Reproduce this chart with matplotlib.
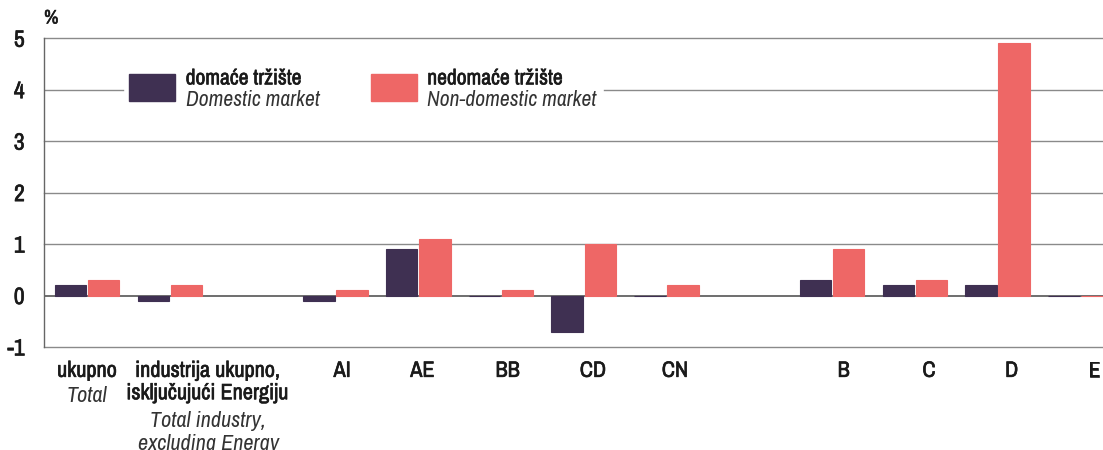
import matplotlib.pyplot as plt
import matplotlib.patheffects as pe
from matplotlib.patches import Rectangle

plt.rcParams['font.family'] = ['Archivo Narrow', 'DejaVu Sans']

# podaci
labels_top = ["ukupno", "industrija ukupno,\nisključujući Energiju", "", "AI", "AE", "BB", "CD", "CN", "",
              "B", "C", "D", "E"]
labels_bottom = ["Total", "Total industry,\nexcluding Energy", "", "", "", "", "", "", "", "", "", "", ""]
domestic = [0.2, -0.1, None, -0.1, 0.9, 0.0, -0.7, 0.0, None, 0.3, 0.2, 0.2, 0.0]
non_domestic = [0.3, 0.2, None, 0.1, 1.1, 0.1, 1.0, 0.2, None, 0.9, 0.3, 4.9, 0.0]
legend_top = ["domaće tržište", "nedomaće tržište"]
legend_bottom = ["Domestic market", "Non-domestic market"]

c_dom = "#3f3052"
c_non = "#ee6766"
grid_c = "#8a8a8a"
txt_c = "#1a1a1a"
# malo deblji tekst (kao medium rez)
bold_fx = [pe.withStroke(linewidth=0.45, foreground=txt_c)]

fig = plt.figure(figsize=(11.03, 4.5), dpi=100)
ax = fig.add_axes([0.04, 0.229, 0.965, 0.686])

w = 0.38
for i in range(len(labels_top)):
    if domestic[i] is not None:
        ax.bar(i - 0.2, domestic[i], width=w, color=c_dom, edgecolor=c_dom, linewidth=0.8, zorder=3)
    if non_domestic[i] is not None:
        ax.bar(i + 0.2, non_domestic[i], width=w, color=c_non, edgecolor=c_non, linewidth=0.8, zorder=3)

x0, x1 = -0.52, 12.34
ax.set_xlim(x0, x1)
ax.set_ylim(-1, 5)

# mreža
for y in [1, 2, 3, 5, -1]:
    ax.axhline(y, color=grid_c, lw=1, zorder=1, clip_on=False)
ax.plot([x0, 0.43], [4, 4], color=grid_c, lw=1, zorder=1)
ax.plot([6.25, x1], [4, 4], color=grid_c, lw=1, zorder=1)
ax.axhline(0, color="#555555", lw=1.2, zorder=2)

for s in ["top", "right", "bottom"]:
    ax.spines[s].set_visible(False)
ax.spines["left"].set_color("#666666")
ax.spines["left"].set_linewidth(1)

ax.set_yticks(range(-1, 6))
ax.set_yticklabels([str(v) for v in range(-1, 6)], fontsize=17, color=txt_c)
for lab in ax.get_yticklabels():
    lab.set_path_effects(bold_fx)
ax.tick_params(axis="y", length=0, pad=14)
ax.set_xticks([])
ax.text(0.0, 1.035, "%", transform=ax.transAxes, fontsize=14, color=txt_c, ha="left", va="bottom",
        path_effects=bold_fx)

# oznake kategorija
offsets = [0, 0.46, 0, 0.08, 0.05, 0.08, 0.11, 0.1, 0, 0.14, 0.17, 0.17, 0.17]
for i, (t, b) in enumerate(zip(labels_top, labels_bottom)):
    if not t:
        continue
    xx = i + offsets[i]
    ax.text(xx, -1.27, t, ha="center", va="top", fontsize=16, color=txt_c,
            linespacing=1.15, path_effects=bold_fx)
    if b:
        nl = t.count("\n") + 1
        ax.text(xx, -1.27 - 0.49 * nl, b, ha="center", va="top", fontsize=16, color="#333333",
                style="italic", linespacing=1.15)

# legenda
leg_x = [0.08, 0.307]
for k, col in enumerate([c_dom, c_non]):
    ax.add_patch(Rectangle((leg_x[k], 0.796), 0.043, 0.087, transform=ax.transAxes,
                           facecolor=col, edgecolor=col, zorder=4))
    ax.text(leg_x[k] + 0.053, 0.87, legend_top[k], transform=ax.transAxes, fontsize=15.5,
            color=txt_c, va="center", ha="left", path_effects=bold_fx)
    ax.text(leg_x[k] + 0.053, 0.8, legend_bottom[k], transform=ax.transAxes, fontsize=15.5,
            color="#333333", style="italic", va="center", ha="left")

fig.savefig("out.png", dpi=100)
